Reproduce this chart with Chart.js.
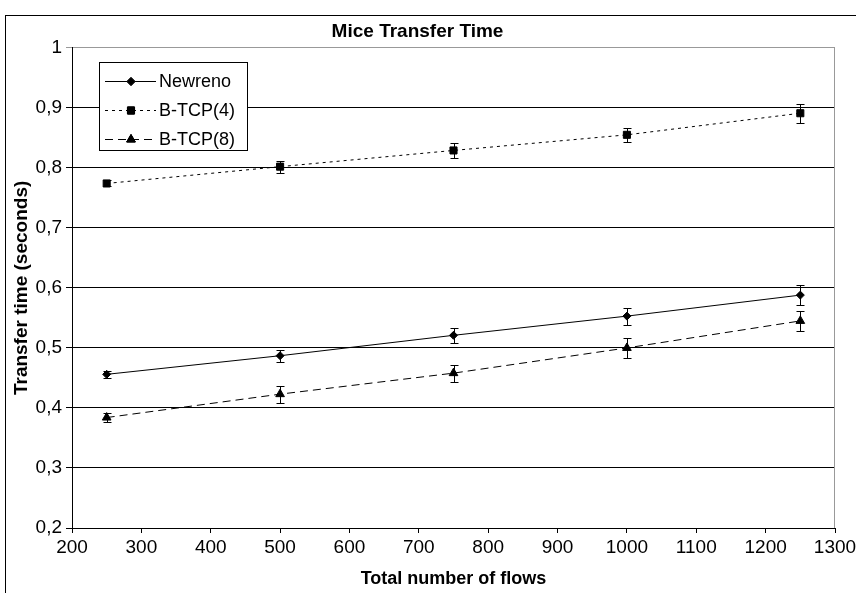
<!DOCTYPE html>
<html>
<head>
<meta charset="utf-8">
<script src="https://cdn.jsdelivr.net/npm/chart.js@4.4.1/dist/chart.umd.min.js"></script>
<style>
  html, body { margin: 0; padding: 0; background: #fff; }
  #c { display: block; }
</style>
</head>
<body>
<canvas id="c" width="856" height="593"></canvas>
<script>
// ---- data ----
const flows = [250, 500, 750, 1000, 1250];
const newreno = [0.456, 0.487, 0.521, 0.553, 0.588];
const newrenoErr = [0.006, 0.010, 0.012, 0.014, 0.016];
const btcp4 = [0.774, 0.802, 0.829, 0.855, 0.891];
const btcp4Err = [0.005, 0.010, 0.013, 0.012, 0.016];
const btcp8 = [0.384, 0.423, 0.458, 0.500, 0.545];
const btcp8Err = [0.008, 0.014, 0.014, 0.017, 0.016];
const seriesNames = ['Newreno', 'B-TCP(4)', 'B-TCP(8)'];
const xTicks = [200, 300, 400, 500, 600, 700, 800, 900, 1000, 1100, 1200, 1300];
const yTicks = [0.2, 0.3, 0.4, 0.5, 0.6, 0.7, 0.8, 0.9, 1];
const chartTitle = 'Mice Transfer Time';
const xTitle = 'Total number of flows';
const yTitle = 'Transfer time (seconds)';

const FONT = '"Liberation Sans", Arial, sans-serif';

function pts(vals) { return flows.map((f, i) => ({ x: f, y: vals[i] })); }

const datasets = [
  { label: seriesNames[0], data: pts(newreno), err: newrenoErr, borderDash: [], pointStyle: 'rectRot', pointRadius: 4 },
  { label: seriesNames[1], data: pts(btcp4), err: btcp4Err, borderDash: [3, 4], pointStyle: 'rect', pointRadius: 5 },
  { label: seriesNames[2], data: pts(btcp8), err: btcp8Err, borderDash: [8, 5], pointStyle: 'triangle', pointRadius: 5 }
].map(d => Object.assign({
  borderColor: '#000', backgroundColor: '#000', borderWidth: 1,
  pointBackgroundColor: '#000', pointBorderColor: '#000', pointBorderWidth: 1,
  tension: 0, fill: false
}, d));

const decorPlugin = {
  id: 'decor',
  beforeDraw(chart) {
    const ctx = chart.ctx;
    ctx.save();
    ctx.strokeStyle = '#000';
    ctx.lineWidth = 1;
    ctx.strokeRect(5.5, 15.5, 1000, 1000);
    ctx.restore();
  },
  beforeDatasetsDraw(chart) {
    const ctx = chart.ctx, a = chart.chartArea;
    ctx.save();
    ctx.strokeStyle = '#999';
    ctx.lineWidth = 1;
    ctx.beginPath();
    ctx.moveTo(Math.round(a.right) - 0.5, a.top);
    ctx.lineTo(Math.round(a.right) - 0.5, a.bottom);
    ctx.stroke();
    ctx.restore();
  },
  afterDatasetsDraw(chart) {
    const ctx = chart.ctx;
    const xs = chart.scales.x, ys = chart.scales.y;
    ctx.save();
    ctx.strokeStyle = '#000';
    ctx.lineWidth = 1;
    ctx.setLineDash([]);
    chart.data.datasets.forEach(ds => {
      ds.data.forEach((p, i) => {
        const x = Math.round(xs.getPixelForValue(p.x)) + 0.5;
        const y1 = Math.round(ys.getPixelForValue(p.y + ds.err[i])) + 0.5;
        const y2 = Math.round(ys.getPixelForValue(p.y - ds.err[i])) + 0.5;
        ctx.beginPath();
        ctx.moveTo(x, y1); ctx.lineTo(x, y2);
        ctx.moveTo(x - 4, y1); ctx.lineTo(x + 4, y1);
        ctx.moveTo(x - 4, y2); ctx.lineTo(x + 4, y2);
        ctx.stroke();
      });
    });
    ctx.restore();
  },
  afterDraw(chart) {
    const ctx = chart.ctx;
    ctx.save();
    // legend box
    ctx.fillStyle = '#fff';
    ctx.fillRect(99.5, 62.5, 148, 88);
    ctx.strokeStyle = '#000';
    ctx.lineWidth = 1;
    ctx.strokeRect(99.5, 62.5, 148, 88);
    const rows = [81, 110, 139];
    chart.data.datasets.forEach((ds, i) => {
      const y = rows[i] + 0.5;
      ctx.setLineDash(ds.borderDash);
      ctx.beginPath();
      ctx.moveTo(105, y); ctx.lineTo(156, y);
      ctx.stroke();
      ctx.setLineDash([]);
      Chart.helpers.drawPoint(ctx, { pointStyle: ds.pointStyle, radius: ds.pointRadius, borderWidth: 1, rotation: 0 }, 131, y);
      ctx.fillStyle = '#000';
      ctx.fill();
      ctx.stroke();
      ctx.font = '18px ' + FONT;
      ctx.textAlign = 'left';
      ctx.textBaseline = 'middle';
      ctx.fillText(ds.label, 159, rows[i] + 1);
    });
    ctx.restore();
  }
};

new Chart(document.getElementById('c'), {
  type: 'line',
  data: { datasets },
  options: {
    responsive: false,
    animation: false,
    layout: { padding: { top: 0, right: 21, left: 0, bottom: 0 } },
    plugins: {
      legend: { display: false },
      tooltip: { enabled: false },
      title: {
        display: true, text: chartTitle, color: '#000',
        font: { family: FONT, size: 19, weight: 'bold' },
        padding: { top: 20, bottom: 5 }
      }
    },
    scales: {
      x: {
        type: 'linear', min: 200, max: 1300,
        afterBuildTicks: s => { s.ticks = xTicks.map(v => ({ value: v })); },
        afterFit: s => { s.height = 65; s.paddingLeft = 0; s.paddingRight = 0; },
        ticks: { color: '#000', font: { family: FONT, size: 19 }, padding: 3, maxRotation: 0, autoSkip: false, callback: v => String(v) },
        grid: { drawOnChartArea: false, drawTicks: true, tickLength: 5, color: '#000' },
        border: { display: true, color: '#000', width: 1 },
        title: { display: true, text: xTitle, color: '#000', font: { family: FONT, size: 18, weight: 'bold' }, padding: { top: 0, bottom: 3 } }
      },
      y: {
        type: 'linear', min: 0.2, max: 1,
        afterBuildTicks: s => { s.ticks = yTicks.map(v => ({ value: v })); },
        afterFit: s => { s.width = 72; },
        ticks: {
          color: '#000', font: { family: FONT, size: 19 }, padding: 4,
          callback: v => (Math.round(v * 10) / 10 === 1 ? '1' : (Math.round(v * 10) / 10).toFixed(1).replace('.', ','))
        },
        grid: {
          drawTicks: true, tickLength: 6,
          color: c => (c.tick && c.tick.value >= 0.99 ? '#999' : '#000'),
          lineWidth: 1
        },
        border: { display: true, color: '#000', width: 1 },
        title: { display: true, text: yTitle, color: '#000', font: { family: FONT, size: 19, weight: 'bold' }, padding: { top: 10, bottom: 0 } }
      }
    }
  },
  plugins: [decorPlugin]
});
</script>
</body>
</html>
